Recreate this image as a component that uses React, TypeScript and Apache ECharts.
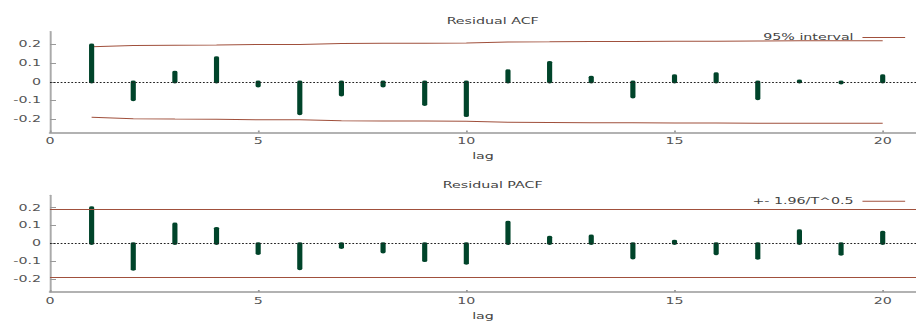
import React, { useEffect, useRef } from "react";
import * as echarts from "echarts";

const lags = [1, 2, 3, 4, 5, 6, 7, 8, 9, 10, 11, 12, 13, 14, 15, 16, 17, 18, 19, 20];
const acfValues = [0.198, -0.095, 0.053, 0.13, -0.022, -0.17, -0.07, -0.022, -0.12, -0.18,
  0.06, 0.105, 0.025, -0.08, 0.034, 0.044, -0.09, 0.006, -0.006, 0.034];
const acfUpper = [0.188, 0.195, 0.197, 0.198, 0.201, 0.201, 0.206, 0.207, 0.207, 0.209,
  0.214, 0.215, 0.217, 0.217, 0.218, 0.218, 0.219, 0.22, 0.22, 0.22];
const acfLower = [-0.189, -0.196, -0.198, -0.199, -0.202, -0.202, -0.207, -0.208, -0.208, -0.21,
  -0.215, -0.216, -0.218, -0.218, -0.219, -0.219, -0.22, -0.221, -0.221, -0.221];
const pacfValues = [0.2, -0.143, 0.11, 0.085, -0.055, -0.14, -0.022, -0.047, -0.095, -0.11,
  0.12, 0.036, 0.043, -0.08, 0.014, -0.057, -0.082, 0.072, -0.06, 0.063];
const pacfBandUpper = 0.188;
const pacfBandLower = -0.188;
const yTicks = [-0.2, -0.1, 0, 0.1, 0.2];
const xTicks = [0, 5, 10, 15, 20];
const titles = ["Residual ACF", "Residual PACF"];
const acfLegend = "95% interval";
const pacfLegend = "+- 1.96/T^0.5";

const INNER_W = 515;
const H = 321;
const SCALE = 916 / INNER_W;
const FONT = "DejaVu Sans";
const STEM = "#00442a";
const BAND = "#a0503c";

export default function App() {
  const ref = useRef<HTMLDivElement>(null);
  useEffect(() => {
    if (!ref.current) return;
    const chart = echarts.init(ref.current, undefined, { renderer: "svg" });
    const stems = (vals: number[]) => lags.map((l, i) => [l, vals[i]]);
    const renderStem = (params: any, api: any) => {
      const x = api.value(0);
      const y = api.value(1);
      const p0 = api.coord([x, 0]);
      const p1 = api.coord([x, y]);
      return {
        type: "line",
        shape: { x1: p0[0], y1: p0[1], x2: p1[0], y2: p1[1] },
        style: { stroke: STEM, lineWidth: 2.9, lineCap: "round" },
      };
    };
    const xAxisBase = (gi: number) => ({
      type: "value",
      gridIndex: gi,
      min: 0,
      max: 20.8,
      name: "lag",
      nameLocation: "middle",
      nameGap: 20,
      nameTextStyle: { fontSize: 8, color: "#444", fontFamily: FONT },
      axisLine: { show: true, onZero: false, lineStyle: { color: "#999", width: 1.5 } },
      axisTick: { show: true, inside: true, length: 2, customValues: xTicks, lineStyle: { color: "#999" } },
      axisLabel: { fontSize: 8, color: "#555", fontFamily: FONT, margin: 5, customValues: xTicks },
      splitLine: { show: false },
    });
    const yAxisBase = (gi: number) => ({
      type: "value",
      gridIndex: gi,
      min: -0.27,
      max: 0.27,
      axisLine: { show: true, onZero: false, lineStyle: { color: "#aaa", width: 1.1 } },
      axisTick: { show: true, inside: true, length: 3.4, customValues: yTicks, lineStyle: { color: "#999" } },
      axisLabel: { fontSize: 8, color: "#555", fontFamily: FONT, margin: 5, customValues: yTicks },
      splitLine: { show: false },
    });
    const zeroLine = { yAxis: 0, lineStyle: { type: "dotted", color: "#222", width: 1 } };
    const mlBase = { symbol: "none", silent: true, label: { show: false }, animation: false };
    const legendBase = {
      orient: "horizontal",
      align: "right",
      right: 5.6,
      itemWidth: 24,
      itemHeight: 10,
      padding: 0,
      selectedMode: false,
      z: 1,
      itemStyle: { color: "transparent", borderWidth: 0 },
      lineStyle: { color: BAND, width: 1 },
      textStyle: { fontSize: 8, color: "#444", fontFamily: FONT },
    };
    chart.setOption({
      animation: false,
      textStyle: { fontFamily: FONT },
      title: [
        { text: titles[0], left: 272, top: 12.5, textAlign: "center", textStyle: { fontSize: 8, fontWeight: "normal", color: "#444", fontFamily: FONT } },
        { text: titles[1], left: 272, top: 176, textAlign: "center", textStyle: { fontSize: 8, fontWeight: "normal", color: "#444", fontFamily: FONT } },
      ],
      legend: [
        { ...legendBase, data: [acfLegend], top: 33.5 },
        { ...legendBase, data: [pacfLegend], top: 197.3 },
      ],
      grid: [
        { left: 28.1, right: 0, top: 31.5, height: 101 },
        { left: 28.1, right: 0, top: 195.2, height: 101 },
      ],
      xAxis: [xAxisBase(0), xAxisBase(1)],
      yAxis: [yAxisBase(0), yAxisBase(1)],
      series: [
        {
          name: acfLegend,
          type: "line",
          xAxisIndex: 0,
          yAxisIndex: 0,
          symbol: "none",
          color: BAND,
          lineStyle: { color: BAND, width: 1 },
          data: lags.map((l, i) => [l, acfUpper[i]]),
          z: 2,
          markLine: { ...mlBase, data: [zeroLine] },
        },
        {
          name: acfLegend,
          type: "line",
          xAxisIndex: 0,
          yAxisIndex: 0,
          symbol: "none",
          color: BAND,
          lineStyle: { color: BAND, width: 1 },
          data: lags.map((l, i) => [l, acfLower[i]]),
          z: 2,
        },
        {
          name: "ACF",
          type: "custom",
          xAxisIndex: 0,
          yAxisIndex: 0,
          renderItem: renderStem,
          encode: { x: 0, y: 1 },
          data: stems(acfValues),
          z: 3,
        },
        {
          name: pacfLegend,
          type: "line",
          xAxisIndex: 1,
          yAxisIndex: 1,
          symbol: "none",
          color: BAND,
          lineStyle: { color: BAND, width: 1 },
          data: [],
          z: 2,
          markLine: {
            ...mlBase,
            data: [
              { yAxis: pacfBandUpper, lineStyle: { type: "solid", color: BAND, width: 1 } },
              { yAxis: pacfBandLower, lineStyle: { type: "solid", color: BAND, width: 1 } },
              zeroLine,
            ],
          },
        },
        {
          name: "PACF",
          type: "custom",
          xAxisIndex: 1,
          yAxisIndex: 1,
          renderItem: renderStem,
          encode: { x: 0, y: 1 },
          data: stems(pacfValues),
          z: 3,
        },
      ],
    });
    return () => chart.dispose();
  }, []);
  return (
    <div
      ref={ref}
      style={{
        position: "absolute",
        left: 0,
        top: 0,
        width: INNER_W,
        height: H,
        transform: `scaleX(${SCALE})`,
        transformOrigin: "0 0",
      }}
    />
  );
}
